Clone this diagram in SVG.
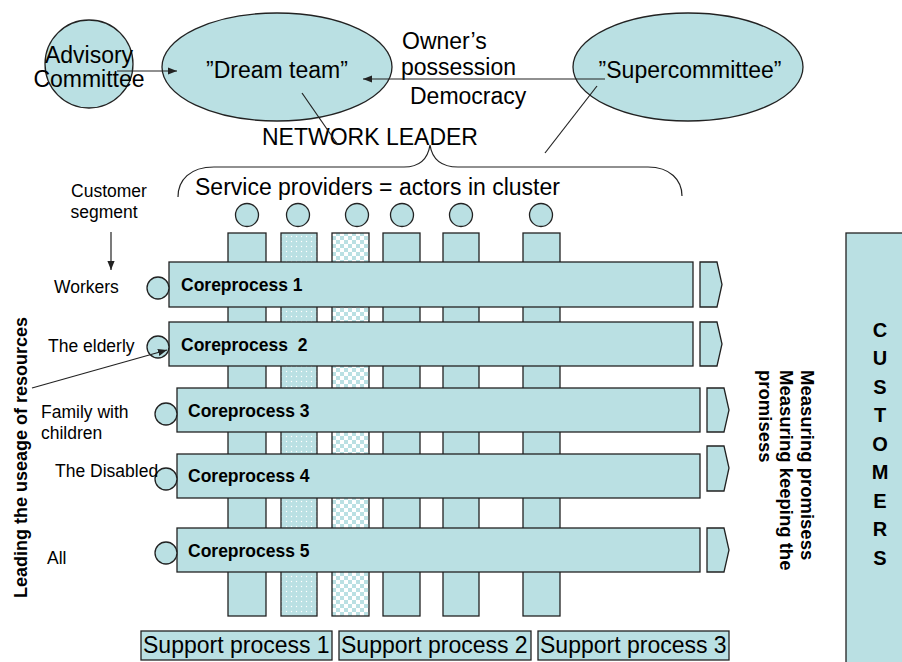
<svg xmlns="http://www.w3.org/2000/svg" width="902" height="662" viewBox="0 0 902 662">
<defs>
<style>
text{font-family:"Liberation Sans",Arial,sans-serif;fill:#000}
.sh{fill:#BAE0E3;stroke:#222;stroke-width:1.3}
.big{font-size:23px}
.sm{font-size:17.5px}
.b{font-weight:bold}
.ln{fill:none;stroke:#222;stroke-width:1.2}
</style>
<pattern id="dots" width="5" height="5" patternUnits="userSpaceOnUse">
<rect width="5" height="5" fill="#BAE0E3"/>
<circle cx="1.5" cy="1.5" r="0.7" fill="#fff"/>
</pattern>
<pattern id="check" width="8" height="8" patternUnits="userSpaceOnUse">
<rect width="8" height="8" fill="#fff"/>
<rect width="4" height="4" fill="#BAE0E3"/>
<rect x="4" y="4" width="4" height="4" fill="#BAE0E3"/>
</pattern>
<marker id="ah" viewBox="0 0 10 10" refX="10" refY="5" markerWidth="9" markerHeight="9" markerUnits="userSpaceOnUse" orient="auto">
<path d="M0,1 L10,5 L0,9 z" fill="#222"/>
</marker>
</defs>

<g id="advisory"><circle class="sh" cx="89" cy="64" r="44"/>
<text class="big" x="89" y="63" text-anchor="middle">Advisory</text>
<text class="big" x="89" y="87" text-anchor="middle">Committee</text></g>

<g id="dreamteam"><ellipse class="sh" cx="277" cy="67" rx="115" ry="54"/>
<text class="big" x="277" y="78" text-anchor="middle">”Dream team”</text></g>

<g id="supercommittee"><ellipse class="sh" cx="688" cy="67" rx="115" ry="54"/>
<text class="big" x="690" y="78" text-anchor="middle">”Supercommittee”</text></g>

<g id="labels-top">
<text class="big" x="402" y="49">Owner’s</text>
<text class="big" x="401" y="75">possession</text>
<text class="big" x="410" y="104">Democracy</text>
<text class="big" x="262" y="145">NETWORK LEADER</text>
<text class="big" x="195" y="195">Service providers = actors in cluster</text>
<text class="sm" x="109" y="197" text-anchor="middle">Customer</text>
<text class="sm" x="104" y="218" text-anchor="middle">segment</text>
</g>

<g id="columns">
<rect class="sh" x="228" y="233" width="38" height="383"/>
<rect class="sh" x="281" y="233" width="36" height="383" style="fill:url(#dots)"/>
<rect class="sh" x="332" y="233" width="37" height="383" style="fill:url(#check)"/>
<rect class="sh" x="383" y="233" width="37" height="383"/>
<rect class="sh" x="443" y="233" width="36" height="383"/>
<rect class="sh" x="523" y="233" width="37" height="383"/>
<circle class="sh" cx="247" cy="215" r="11.5"/>
<circle class="sh" cx="298" cy="215" r="11.5"/>
<circle class="sh" cx="357" cy="215" r="11.5"/>
<circle class="sh" cx="402" cy="215" r="11.5"/>
<circle class="sh" cx="461" cy="215" r="11.5"/>
<circle class="sh" cx="541" cy="215" r="11.5"/>
</g>

<g id="cp1"><rect class="sh" x="169" y="262" width="524" height="45"/>
<polygon class="sh" points="700,262 717,262 722,284.5 717,307 700,307"/>
<circle class="sh" cx="158" cy="288" r="11"/>
<text class="sm b" x="181" y="291">Coreprocess 1</text>
<text class="sm" x="54" y="293">Workers</text></g>

<g id="cp2"><rect class="sh" x="169" y="322" width="524" height="44"/>
<polygon class="sh" points="700,322 717,322 722,344 717,366 700,366"/>
<circle class="sh" cx="158" cy="347" r="11"/>
<text class="sm b" x="181" y="351" xml:space="preserve">Coreprocess  2</text>
<text class="sm" x="48" y="352">The elderly</text></g>

<g id="cp3"><rect class="sh" x="177" y="388" width="523" height="44"/>
<polygon class="sh" points="707,388 724,388 729,410 724,432 707,432"/>
<circle class="sh" cx="166" cy="414" r="11"/>
<text class="sm b" x="188" y="417">Coreprocess 3</text>
<text class="sm" x="41" y="418">Family with</text>
<text class="sm" x="41" y="439">children</text></g>

<g id="cp4"><rect class="sh" x="177" y="454" width="523" height="44"/>
<polygon class="sh" points="707,446 724,446 729,468 724,491 707,491"/>
<circle class="sh" cx="166" cy="479" r="11"/>
<text class="sm b" x="188" y="482">Coreprocess 4</text>
<text class="sm" x="55" y="477">The Disabled</text></g>

<g id="cp5"><rect class="sh" x="177" y="528" width="523" height="44"/>
<polygon class="sh" points="707,528 724,528 729,550 724,572 707,572"/>
<circle class="sh" cx="166" cy="553" r="11"/>
<text class="sm b" x="188" y="557">Coreprocess 5</text>
<text class="sm" x="47" y="564">All</text></g>

<g id="support">
<rect class="sh" x="141" y="631" width="191" height="29"/>
<rect class="sh" x="339" y="631" width="192" height="29"/>
<rect class="sh" x="538" y="631" width="191" height="29"/>
<text class="big" x="143" y="653">Support process 1</text>
<text class="big" x="341" y="653">Support process 2</text>
<text class="big" x="540" y="653">Support process 3</text>
</g>

<g id="customers"><rect class="sh" x="846" y="233" width="70" height="440"/>
<g class="b" style="font-size:20px" text-anchor="middle">
<text x="880" y="337">C</text><text x="880" y="365">U</text><text x="880" y="394">S</text>
<text x="880" y="422">T</text><text x="880" y="451">O</text><text x="880" y="479">M</text>
<text x="880" y="508">E</text><text x="880" y="536">R</text><text x="880" y="565">S</text>
</g></g>

<g id="side-texts">
<text class="b" style="font-size:18px" transform="translate(27,598) rotate(-90)">Leading the useage of resources</text>
<text class="b" style="font-size:18.5px" transform="translate(801,370) rotate(90)">Measuring promisess</text>
<text class="b" style="font-size:18.5px" transform="translate(780,370) rotate(90)">Measuring keeping the</text>
<text class="b" style="font-size:18.5px" transform="translate(759,370) rotate(90)">promisess</text>
</g>

<g id="connectors">
<line class="ln" x1="117" y1="71" x2="177" y2="71" marker-end="url(#ah)"/>
<line class="ln" x1="605" y1="79" x2="363" y2="79" marker-end="url(#ah)"/>
<line class="ln" x1="302" y1="93" x2="338" y2="145"/>
<line class="ln" x1="597" y1="86" x2="545" y2="153"/>
<path class="ln" d="M178,197 C178,180 190,167 214,167 L404,167 C420,167 428,158 430,145 C432,158 440,167 458,167 L648,167 C670,167 682,180 682,196"/>
<line class="ln" x1="111" y1="232" x2="111" y2="270" marker-end="url(#ah)"/>
<line class="ln" x1="32" y1="388" x2="167" y2="350" marker-end="url(#ah)"/>
</g>
</svg>
